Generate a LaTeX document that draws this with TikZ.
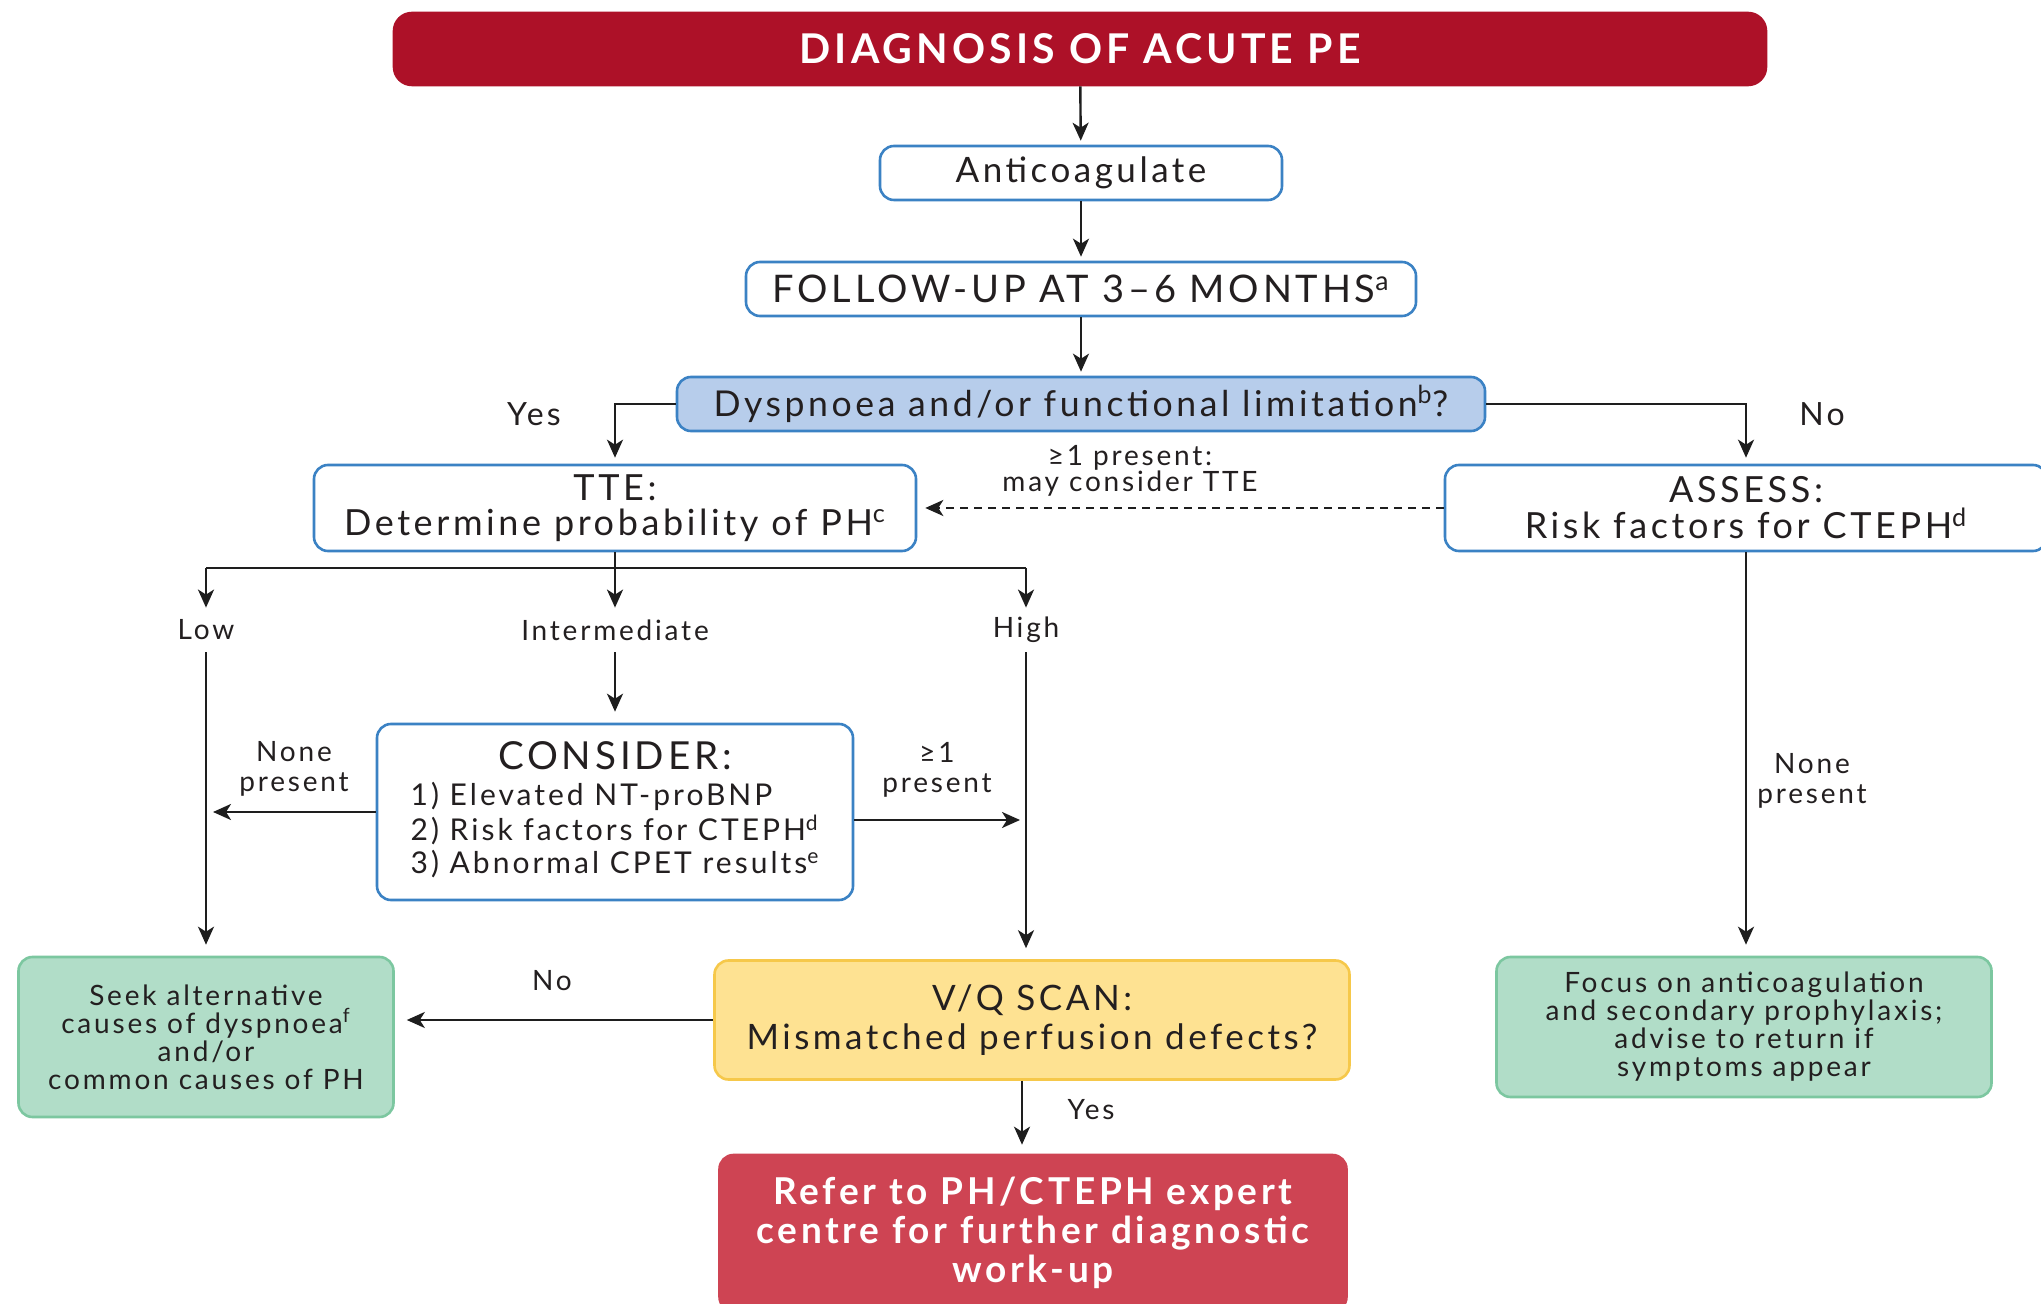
\documentclass[tikz,border=0pt]{standalone}
\usepackage{fontspec}
\setmainfont{Lato}[LetterSpace=10]
\usetikzlibrary{arrows.meta}
\definecolor{titlered}{HTML}{AD1128}
\definecolor{boxblue}{HTML}{3B82C4}
\definecolor{dyspfill}{HTML}{B7CDEB}
\definecolor{greenfill}{HTML}{B1DDC8}
\definecolor{greenline}{HTML}{7CC7A0}
\definecolor{yellowfill}{HTML}{FEE292}
\definecolor{yellowline}{HTML}{F6C84A}
\definecolor{referfill}{HTML}{CE4453}
\definecolor{textdark}{HTML}{231F20}
\definecolor{linegray}{HTML}{1E1E1E}
\newcommand{\fs}[2]{\fontsize{#1pt}{#2pt}\selectfont}
\begin{document}
\begin{tikzpicture}[x=0.5pt,y=-0.5pt,
  every node/.style={text=textdark},
  base/.style={align=center, inner sep=0pt, line width=1.3pt, rounded corners=7pt},
  blueb/.style={base, draw=boxblue, fill=white, font=\fs{18}{17.5}},
  greenb/.style={base, draw=greenline, fill=greenfill, font=\fs{14}{14}},
  lbl/.style={align=center, inner sep=0pt, font=\fs{14}{13}},
  biglbl/.style={align=center, inner sep=0pt, font=\fs{16}{16}},
  branchlbl/.style={lbl, minimum height=22pt},
  ln/.style={draw=linegray, line width=1.2pt},
  arr/.style={ln, -{Stealth[length=9pt,width=8pt,inset=2.5pt]}, shorten >=2pt},
]
\useasboundingbox (0,0) rectangle (2041,1304);
\fill[white] (0,0) rectangle (2041,1304);

% boxes
\node[base, fill=titlered, draw=titlered, rounded corners=9pt, text=white,
      font=\bfseries\fs{20.5}{22}, minimum width=686pt, minimum height=36pt]
      (title) at (1080,49) {DIAGNOSIS OF ACUTE PE};
\node[blueb, font=\fs{17.5}{17}, minimum width=201pt, minimum height=27pt] (antic) at (1081,173) {Anticoagulate};
\node[blueb, font=\fs{19}{18}, minimum width=335pt, minimum height=27pt] (follow) at (1081,289)
  {FOLLOW-UP AT 3–6 MONTHS\textsuperscript{a}};
\node[blueb, font=\fs{17.8}{17}, fill=dyspfill, minimum width=404pt, minimum height=27pt] (dysp) at (1081,404)
  {Dyspnoea and/or functional limitation\textsuperscript{b}?};
\node[blueb, minimum width=301pt, minimum height=43pt] (tte) at (615,508)
  {TTE:\\Determine probability of PH\textsuperscript{c}};
\node[blueb, font=\fs{18}{18}, minimum width=301pt, minimum height=43pt] (assess) at (1746,508)
  {ASSESS:\\Risk factors for CTEPH\textsuperscript{d}};
\node[blueb, minimum width=238pt, minimum height=88pt, font=\fs{15}{15.5}] (consider) at (615,812)
  {\begin{tabular}{@{}l@{}}
   \multicolumn{1}{@{}c@{}}{\fs{19.3}{21}CONSIDER:}\\[2pt]
   1) Elevated NT-proBNP\\
   2) Risk factors for CTEPH\textsuperscript{d}\\
   3) Abnormal CPET results\textsuperscript{e}
   \end{tabular}};
\node[greenb, minimum width=187.5pt, minimum height=80pt] (seek) at (206,1037)
  {Seek alternative\\causes of dyspnoea\textsuperscript{f}\\and/or\\common causes of PH};
\node[base, draw=yellowline, fill=yellowfill, font=\fs{17.5}{19.5},
      minimum width=317.5pt, minimum height=59.5pt] (vq) at (1032,1020)
  {V/Q SCAN:\\Mismatched perfusion defects?};
\node[greenb, minimum width=247.5pt, minimum height=70pt] (focus) at (1744,1027)
  {Focus on anticoagulation\\and secondary prophylaxis;\\advise to return if\\symptoms appear};
\node[base, draw=referfill, fill=referfill, text=white, font=\bfseries\fs{18.5}{19.5},
      minimum width=313.5pt, minimum height=78pt] (refer) at (1033,1233)
  {Refer to PH/CTEPH expert\\centre for further diagnostic\\work-up};

% labels
\node[biglbl] (yes1) at (534,414) {Yes};
\node[biglbl] (no1) at (1822,414) {No};
\node[lbl] (maytte) at (1130,471) {≥1 present:\\may consider TTE};
\node[branchlbl] (low) at (206,630) {Low};
\node[branchlbl] (inter) at (615,630) {Intermediate};
\node[branchlbl] (high) at (1026,630) {High};
\node[lbl, font=\fs{14}{15}] (nonel) at (294,769) {None\\present};
\node[lbl, font=\fs{14}{15}] (onep) at (937,770) {≥1\\present};
\node[lbl] (no2) at (552,981) {No};
\node[lbl] (yes2) at (1091,1110) {Yes};
\node[lbl, font=\fs{14}{15}] (noner) at (1812,781) {None\\present};

% connectors
\draw[arr] (title) -- (antic);
\draw[arr] (antic) -- (follow);
\draw[arr] (follow) -- (dysp);
\draw[arr, shorten >=3pt] (dysp.west) -| (tte.north);
\draw[arr, shorten >=3pt] (dysp.east) -| (assess.north);
\draw[arr, dashed, dash pattern=on 4pt off 3pt, shorten >=4pt] (assess.west) -- (tte.east);

\coordinate (bl) at (206,568);
\coordinate (br) at (1026,568);
\draw[ln] (tte.south) -- (tte.south |- bl);
\draw[ln] (bl) -- (br);
\draw[arr, shorten >=0pt] (bl) -- (low.north);
\draw[arr, shorten >=0pt] (tte.south |- bl) -- (inter.north);
\draw[arr, shorten >=0pt] (br) -- (high.north);

\draw[arr, shorten >=5.5pt] (low.south) -- (seek.north);
\draw[arr, shorten >=5.5pt] (inter.south) -- (consider.north);
\draw[arr, shorten >=5.5pt] (high.south) -- (high.south |- vq.north);
\draw[arr, shorten >=3.5pt] (consider.west) -- (consider.west -| low.south);
\draw[arr, shorten >=3pt] ([yshift=-4pt]consider.east) -- ([yshift=-4pt]consider.east -| high.south);

\draw[arr, shorten >=6pt] (vq.west) -- (vq.west -| seek.east);
\draw[arr, shorten >=4.5pt] ([xshift=-5pt]vq.south) -- ([xshift=-5pt]vq.south |- refer.north);
\draw[arr, shorten >=5.5pt] (assess.south) -- (assess.south |- focus.north);
\end{tikzpicture}
\end{document}
